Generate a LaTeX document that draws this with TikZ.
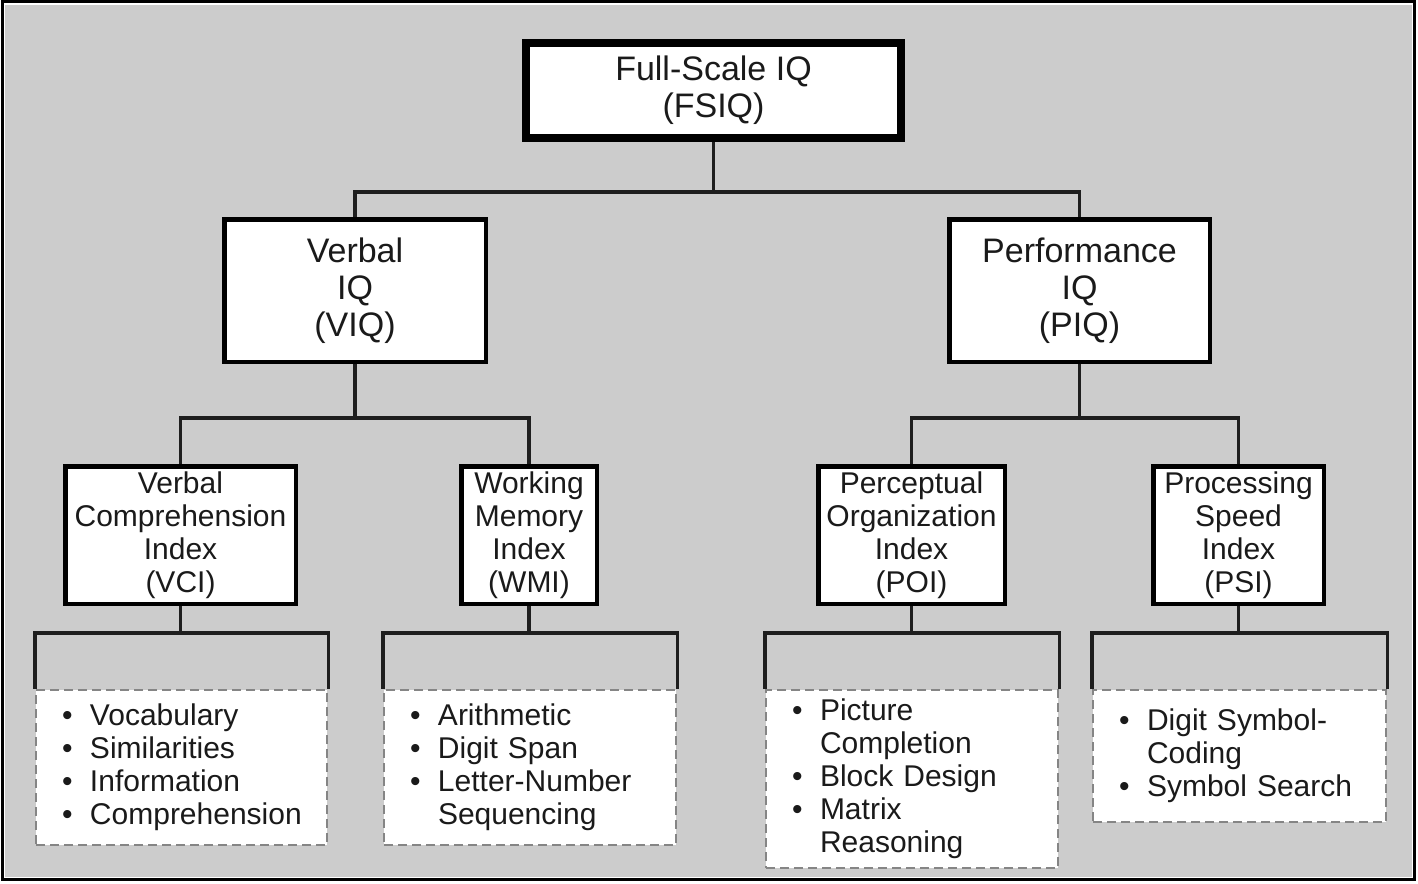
\documentclass[tikz,border=0pt]{standalone}
\usepackage{fontspec}
\setmainfont{Liberation Sans}
\usetikzlibrary{calc}
\definecolor{bggrey}{HTML}{CCCCCC}
\definecolor{dashgrey}{HTML}{858585}
\definecolor{linecol}{HTML}{1E1E1E}
\definecolor{textcol}{HTML}{1A1A1A}
\newcommand\itm{\makebox[28pt][l]{\textbullet}}
\newcommand\cont{\hspace*{28pt}}
\begin{document}
\begin{tikzpicture}[x=1pt,y=-1pt,
  bigbox/.style={draw=black, fill=white, align=center, inner sep=0pt, text=textcol,
    font=\fontsize{34}{37}\selectfont},
  smallbox/.style={draw=black, fill=white, align=center, inner sep=0pt, text=textcol,
    line width=4.5pt, font=\fontsize{30}{33}\selectfont},
  listbox/.style={draw=dashgrey, fill=white, line width=2.5pt, text=textcol,
    dash pattern=on 9pt off 5pt, align=left, inner ysep=0pt, inner xsep=26pt,
    font=\fontsize{30}{33}\selectfont},
  conn/.style={draw=linecol, line width=3.5pt}]
% background
\useasboundingbox (0,0) rectangle (1418,883);
\fill[white] (0,0) rectangle (1418,883);
\fill[bggrey] (5,5) rectangle (1412,877);
\draw[black, line width=3pt] (2,2) rectangle (1414,879);
% main boxes
\node[bigbox, line width=8pt, minimum width=375pt, minimum height=95pt] (fsiq) at (713.5,90.5) {Full-Scale IQ\\(FSIQ)};
\node[bigbox, line width=4.5pt, minimum width=261.5pt, minimum height=142.5pt] (viq) at (355,290.5) {Verbal\\IQ\\(VIQ)};
\node[bigbox, line width=4.5pt, minimum width=260.5pt, minimum height=142.5pt] (piq) at (1079.5,290.5) {Performance\\IQ\\(PIQ)};
% index boxes
\node[smallbox, minimum width=230.5pt, minimum height=137.5pt] (vci) at (180.5,535) {Verbal\\Comprehension\\Index\\(VCI)};
\node[smallbox, minimum width=135.5pt, minimum height=137.5pt] (wmi) at (529,535) {Working\\Memory\\Index\\(WMI)};
\node[smallbox, minimum width=186.5pt, minimum height=137.5pt] (poi) at (911.5,535) {Perceptual\\Organization\\Index\\(POI)};
\node[smallbox, minimum width=170.5pt, minimum height=137.5pt] (psi) at (1238.5,535) {Processing\\Speed\\Index\\(PSI)};
% list boxes
\node[listbox, text width=239pt, minimum height=155pt] (vcil) at (181.5,767.5)
  {\itm Vocabulary\\\itm Similarities\\\itm Information\\\itm Comprehension};
\node[listbox, text width=240pt, minimum height=155pt] (wmil) at (530,767.5)
  {\itm Arithmetic\\\itm Digit Span\\\itm Letter-Number\\\cont Sequencing};
\node[listbox, text width=240pt, minimum height=178pt] (poil) at (912,779)
  {\itm Picture\\\cont Completion\\\itm Block Design\\\itm Matrix\\\cont Reasoning};
\node[listbox, text width=241pt, minimum height=132pt] (psil) at (1239.5,756)
  {\itm Digit Symbol-\\\cont Coding\\\itm Symbol Search};
% junctions
\coordinate (j0) at (713.5,192);
\coordinate (jv) at (355,418);
\coordinate (jp) at (1079.5,418);
\coordinate (jvci) at (180.5,633);
\coordinate (jwmi) at (529,633);
\coordinate (jpoi) at (911.5,633);
\coordinate (jpsi) at (1238.5,633);
% connectors
\draw[conn] (fsiq.south) -- (j0);
\draw[conn] (j0) -| (viq.north);
\draw[conn] (j0) -| (piq.north);
\draw[conn] (viq.south) -- (jv);
\draw[conn] (jv) -| (vci.north);
\draw[conn] (jv) -| (wmi.north);
\draw[conn] (piq.south) -- (jp);
\draw[conn] (jp) -| (poi.north);
\draw[conn] (jp) -| (psi.north);
\draw[conn] (vci.south) -- (jvci);
\draw[conn] (vcil.north west) |- (jvci) -| (vcil.north east);
\draw[conn] (wmi.south) -- (jwmi);
\draw[conn] (wmil.north west) |- (jwmi) -| (wmil.north east);
\draw[conn] (poi.south) -- (jpoi);
\draw[conn] (poil.north west) |- (jpoi) -| (poil.north east);
\draw[conn] (psi.south) -- (jpsi);
\draw[conn] (psil.north west) |- (jpsi) -| (psil.north east);
\end{tikzpicture}
\end{document}
